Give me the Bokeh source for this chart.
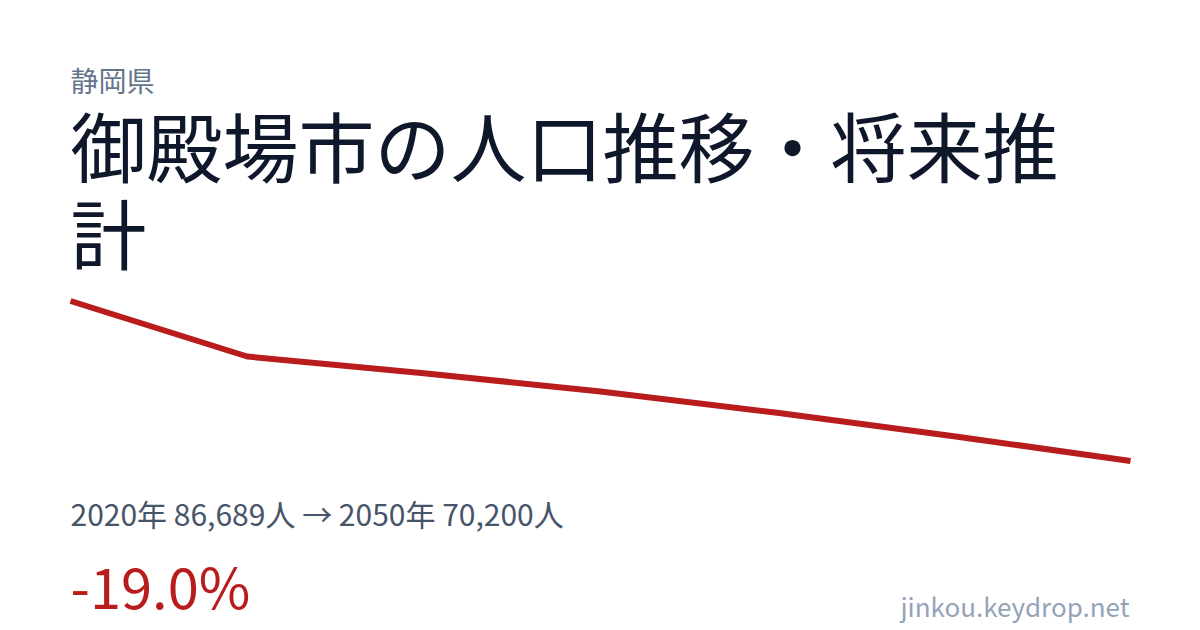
from bokeh.plotting import figure
from bokeh.models import Range1d
from bokeh.core.properties import value
from bokeh.embed import file_html
from bokeh.resources import INLINE

# ---- data ----
years = [2020, 2025, 2030, 2035, 2040, 2045, 2050]
population = [86689, 80970, 79250, 77360, 75170, 72760, 70200]

prefecture = "静岡県"
title_lines = ["御殿場市の人口推移・将来推", "計"]
summary = "2020年 86,689人 → 2050年 70,200人"
change = "-19.0%"
site = "jinkou.keydrop.net"

# ---- layout (canvas pixels) ----
W, H = 1200, 630
LINE_LEFT, LINE_RIGHT = 70, 1130
LINE_TOP, LINE_BOTTOM = 300.5, 460.5
FONT = value("Noto Sans CJK JP")

p = figure(width=W, height=H, x_range=Range1d(0, W), y_range=Range1d(H, 0),
           x_axis_type=None, y_axis_type=None, toolbar_location=None,
           output_backend="svg", min_border=0, outline_line_color=None,
           background_fill_color="white", border_fill_color="white")
p.grid.visible = False

x0, x1 = years[0], years[-1]
kx = (x1 - x0) / (LINE_RIGHT - LINE_LEFT)
ymin, ymax = min(population), max(population)
ky = (ymax - ymin) / (LINE_BOTTOM - LINE_TOP)
p.extra_x_ranges = {"yr": Range1d(x0 - LINE_LEFT * kx, x1 + (W - LINE_RIGHT) * kx)}
p.extra_y_ranges = {"pop": Range1d(ymin - (H - LINE_BOTTOM) * ky, ymax + LINE_TOP * ky)}

p.line(years, population, x_range_name="yr", y_range_name="pop",
       line_color="#b91c1c", line_width=6, line_join="round")

p.text(x=[70], y=[79], text=[prefecture], text_font=FONT,
       text_font_size="28px", text_color="#64748b", text_baseline="alphabetic")
p.text(x=[70, 70], y=[143, 230], text=title_lines,
       text_font=FONT, text_font_size="76px", text_color="#0f172a",
       text_baseline="alphabetic")
p.text(x=[70], y=[512], text=[summary], text_font=FONT,
       text_font_size="30px", text_color="#475569", text_baseline="alphabetic")
p.text(x=[70], y=[584], text=[change], text_font=FONT,
       text_font_size="56px", text_color="#b91c1c", text_baseline="alphabetic")
p.text(x=[1129], y=[605], text=[site], text_font=FONT,
       text_font_size="26px", text_color="#94a3b8", text_baseline="alphabetic",
       text_align="right")

open("out.html", "w").write(file_html(p, INLINE))
